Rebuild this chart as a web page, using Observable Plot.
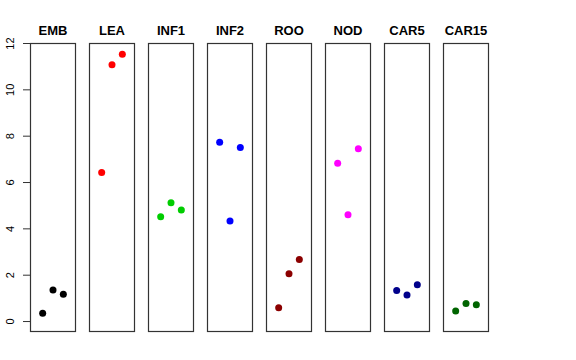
<!DOCTYPE html>
<html>
<head>
<meta charset="utf-8">
<script src="https://cdn.jsdelivr.net/npm/d3@7"></script>
<script src="https://cdn.jsdelivr.net/npm/@observablehq/plot@0.6"></script>
<style>
  html, body { margin: 0; padding: 0; background: white; }
  #chart svg { display: block; }
</style>
</head>
<body>
<div id="chart"></div>
<script>
const panels = ["EMB", "LEA", "INF1", "INF2", "ROO", "NOD", "CAR5", "CAR15"];
const colors = ["#000000", "#FF0000", "#00CD00", "#0000FF", "#8B0000", "#FF00FF", "#00008B", "#006400"];
const rep1 = [0.36, 6.43, 4.52, 7.74, 0.59, 6.83, 1.34, 0.46];
const rep2 = [1.36, 11.08, 5.13, 4.34, 2.06, 4.61, 1.15, 0.78];
const rep3 = [1.18, 11.54, 4.81, 7.51, 2.68, 7.46, 1.59, 0.72];
const yTicks = [0, 2, 4, 6, 8, 10, 12];

const data = [];
panels.forEach((p, i) => {
  [rep1, rep2, rep3].forEach((arr, j) => {
    data.push({panel: p, rep: j + 1, value: arr[i]});
  });
});

const chart = Plot.plot({
  width: 576,
  height: 360,
  marginLeft: 29,
  marginRight: 88,
  marginTop: 43,
  marginBottom: 29,
  style: {fontFamily: "'Liberation Sans', Arial, Helvetica, sans-serif", color: "black", background: "white"},
  fx: {domain: panels, paddingInner: 0.24, paddingOuter: 0, label: null},
  x: {domain: [-0.18, 4.18], axis: null},
  y: {domain: [-0.43, 12]},
  color: {domain: panels, range: colors},
  marks: [
    Plot.frame({stroke: "#333", strokeWidth: 1.2}),
    Plot.dot(data, {fx: "panel", x: "rep", y: "value", fill: "panel", r: 3.5}),
    Plot.axisFx({anchor: "top", tickSize: 0, tickPadding: 9, fontWeight: "bold", fontSize: 13, label: null}),
    Plot.axisY({ticks: yTicks, tickRotate: -90, tickSize: 7, tickPadding: 10, fontSize: 11, label: null, stroke: "#333"})
  ]
});
document.getElementById("chart").appendChild(chart);
</script>
</body>
</html>
